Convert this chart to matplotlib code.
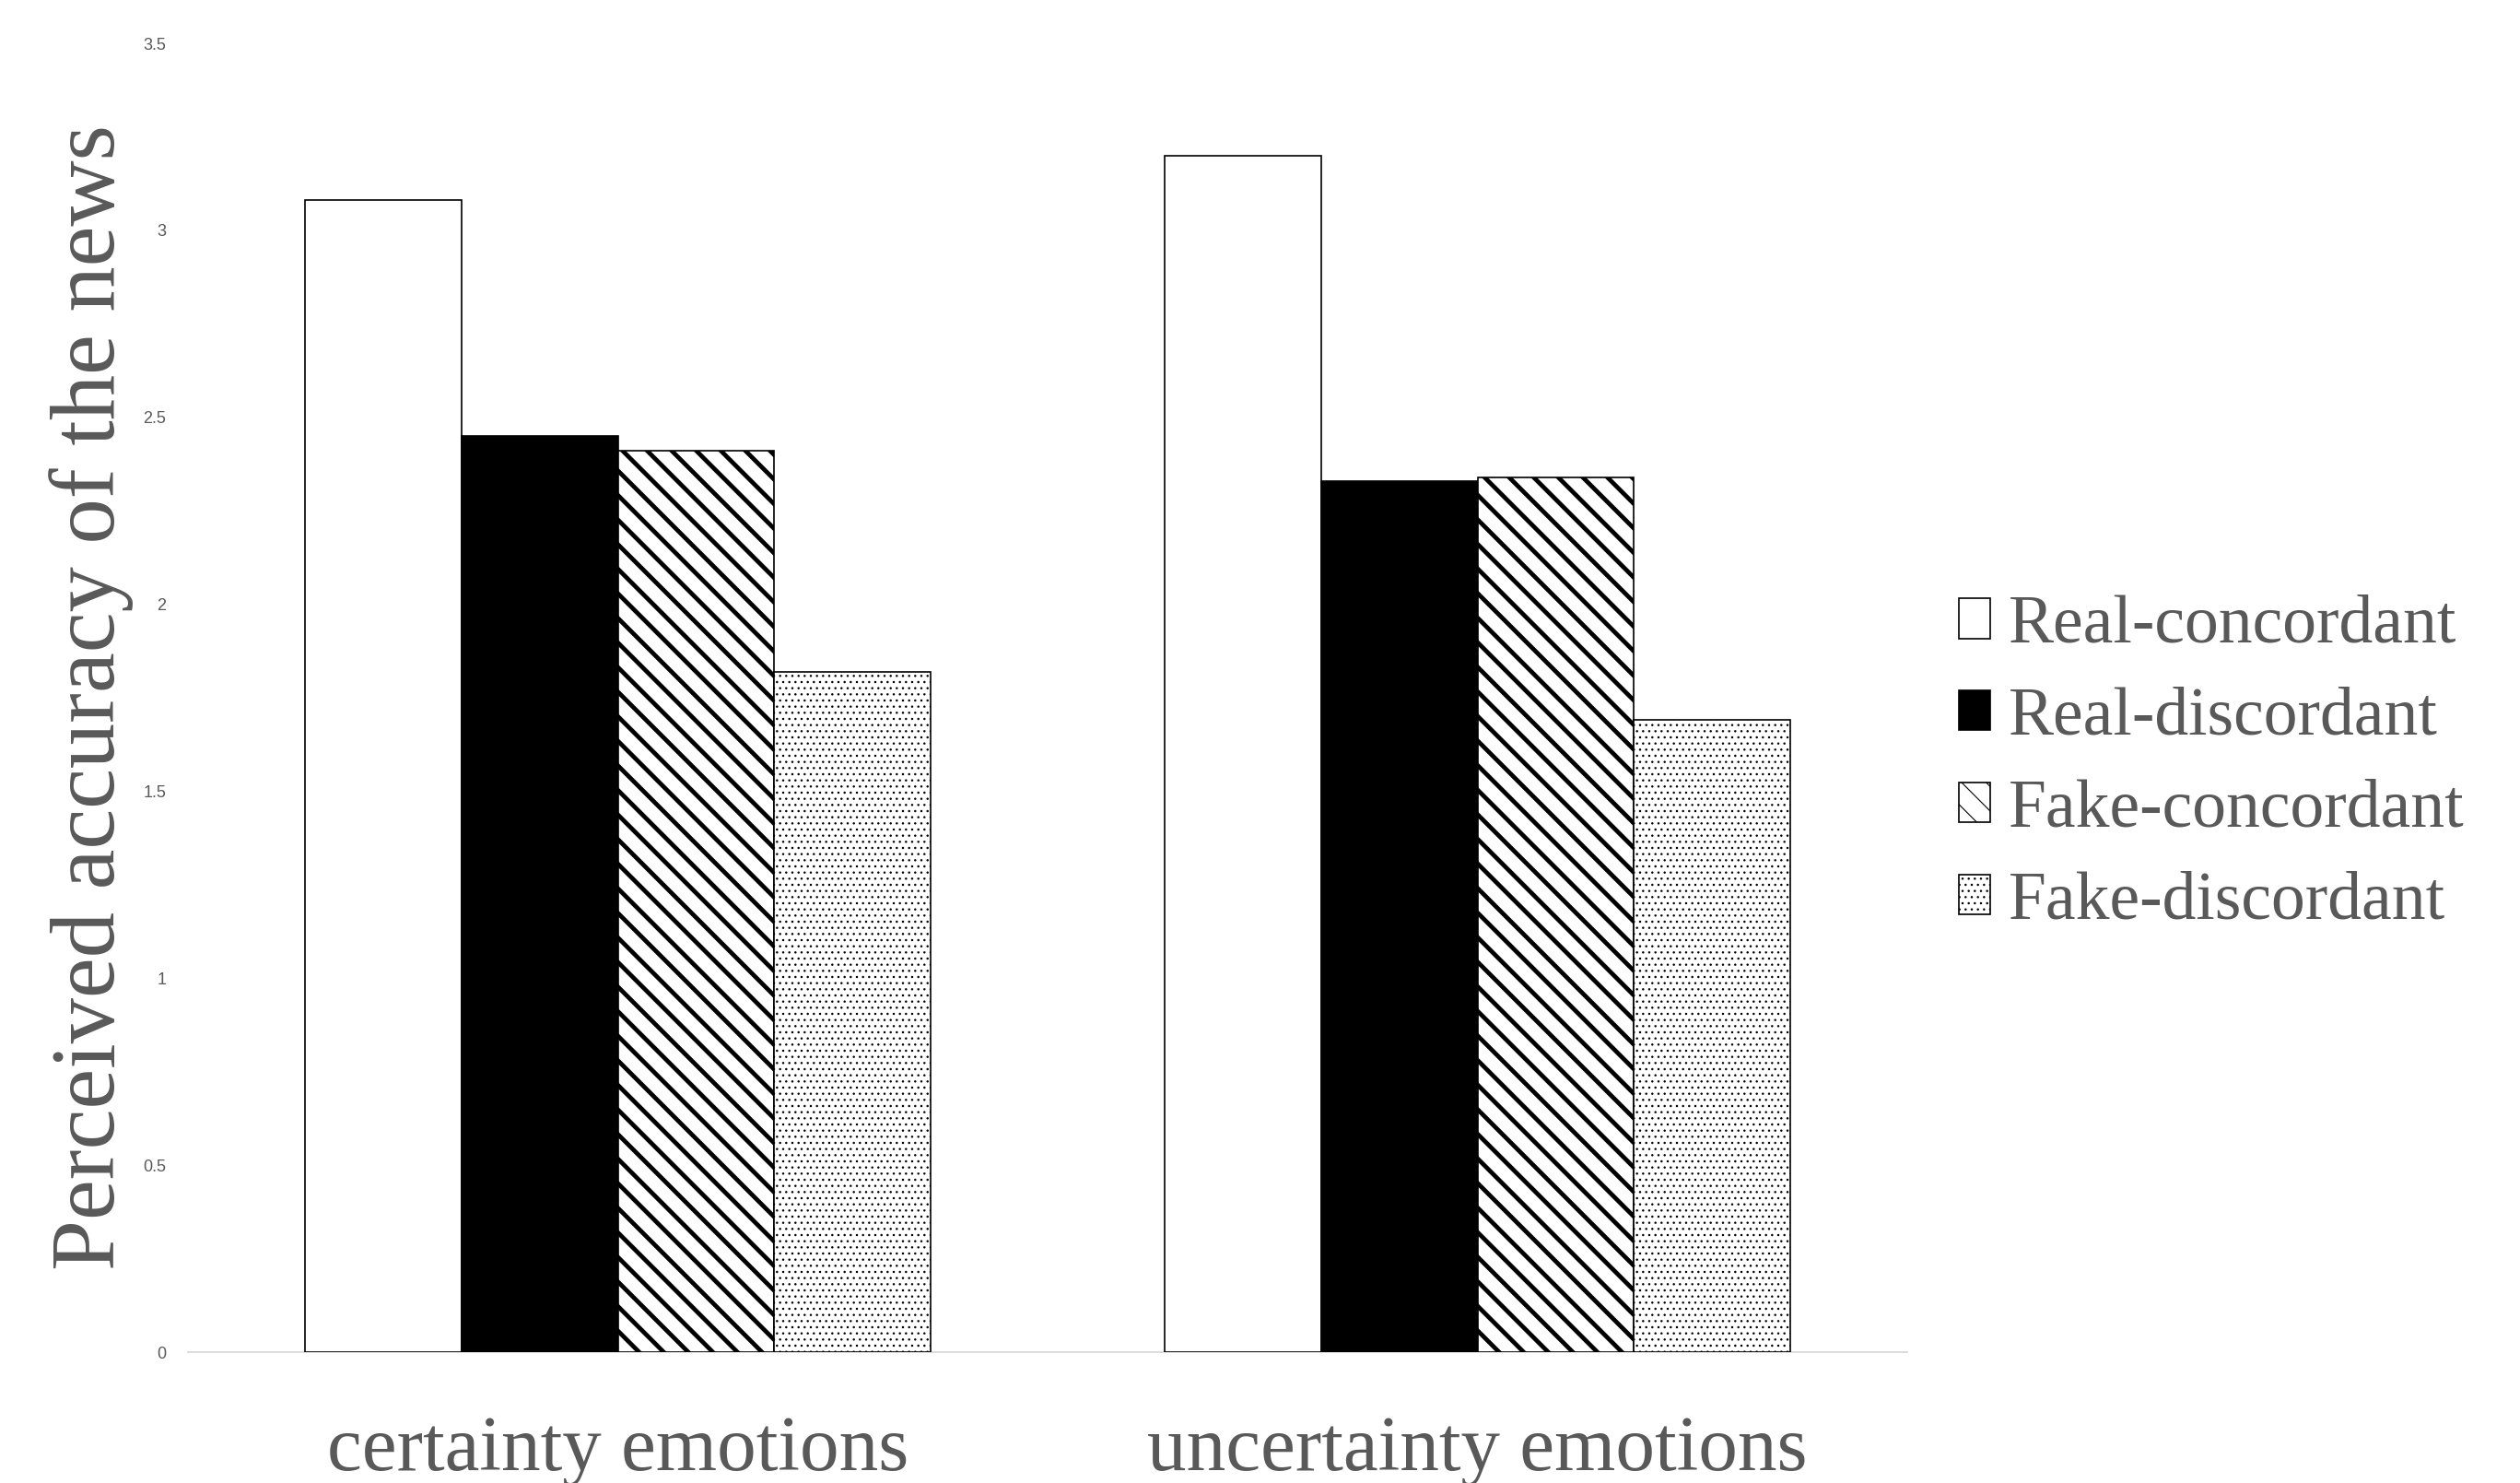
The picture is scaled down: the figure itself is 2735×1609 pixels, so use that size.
import matplotlib
matplotlib.use("Agg")
import matplotlib.pyplot as plt
import numpy as np

# ---- data ----
categories = ["certainty emotions", "uncertainty emotions"]
series_names = ["Real-concordant", "Real-discordant", "Fake-concordant", "Fake-discordant"]
real_concordant = [3.08, 3.20]
real_discordant = [2.45, 2.33]
fake_concordant = [2.41, 2.34]
fake_discordant = [1.82, 1.69]
yticks = [0, 0.5, 1, 1.5, 2, 2.5, 3, 3.5]
ytick_labels = ["0", "0.5", "1", "1.5", "2", "2.5", "3", "3.5"]

series_values = [real_concordant, real_discordant, fake_concordant, fake_discordant]

DPI = 80
S = 100 / DPI  # point-size scale so sizes correspond to a 100-dpi layout
faces = ["white", "black", "white", "white"]
hatches = [None, None, "\\", ".."]
hatch_lw = [1.0, 1.0, 4.3, 1.0]

GRAY = "#595959"
SERIF = ["Liberation Serif", "DejaVu Serif"]

fig = plt.figure(figsize=(2735 / DPI, 1609 / DPI), dpi=DPI)
ax = fig.add_axes([204 / 2735, 1 - 1467 / 1609, (2070 - 204) / 2735, (1467 - 47) / 1609])

x = np.arange(len(categories))
w = 0.182
offsets = [-1.5 * w, -0.5 * w, 0.5 * w, 1.5 * w]
handles = []
for vals, name, fc, h, hl, off in zip(series_values, series_names, faces, hatches, hatch_lw, offsets):
    with plt.rc_context({"hatch.linewidth": hl, "hatch.color": "black"}):
        bars = ax.bar(x + off, vals, width=w, color=fc, edgecolor="black",
                      linewidth=1.2 * S, hatch=h, label=name, zorder=3)
        for b in bars:
            if hasattr(b, "set_hatch_linewidth"):
                b.set_hatch_linewidth(hl)
    handles.append(bars)

ax.set_xlim(-0.5, 1.5)
ax.set_ylim(0, 3.5)
ax.set_yticks(yticks)
ax.set_yticklabels(ytick_labels, fontsize=13 * S, color=GRAY, family=["Liberation Sans", "DejaVu Sans"])
ax.set_xticks(x)
ax.set_xticklabels(categories, fontsize=61.3 * S, color=GRAY, family=SERIF)
for lbl in ax.get_xticklabels():
    lbl.set_verticalalignment("baseline")
ax.tick_params(axis="x", length=0, pad=92 * S)
ax.tick_params(axis="y", length=0, pad=17 * S)

for s in ["top", "right", "left"]:
    ax.spines[s].set_visible(False)
ax.spines["bottom"].set_color("#d9d9d9")
ax.spines["bottom"].set_linewidth(1.3 * S)

ax.set_ylabel("Perceived accuracy of the news", fontsize=71 * S, color=GRAY, family=SERIF)
ax.yaxis.set_label_coords((145 - 204) / 1866, 0.5)

leg = fig.legend(handles=handles, labels=series_names, loc="center left",
                 bbox_to_anchor=(2126 / 2735, 1 - 829 / 1609),
                 frameon=False, borderpad=0, borderaxespad=0,
                 handlelength=0.46, handleheight=0.53, handletextpad=0.27,
                 labelspacing=0.44, prop={"family": SERIF, "size": 53 * S})
for t in leg.get_texts():
    t.set_color(GRAY)

fig.savefig("out.png", dpi=DPI, facecolor="white")
